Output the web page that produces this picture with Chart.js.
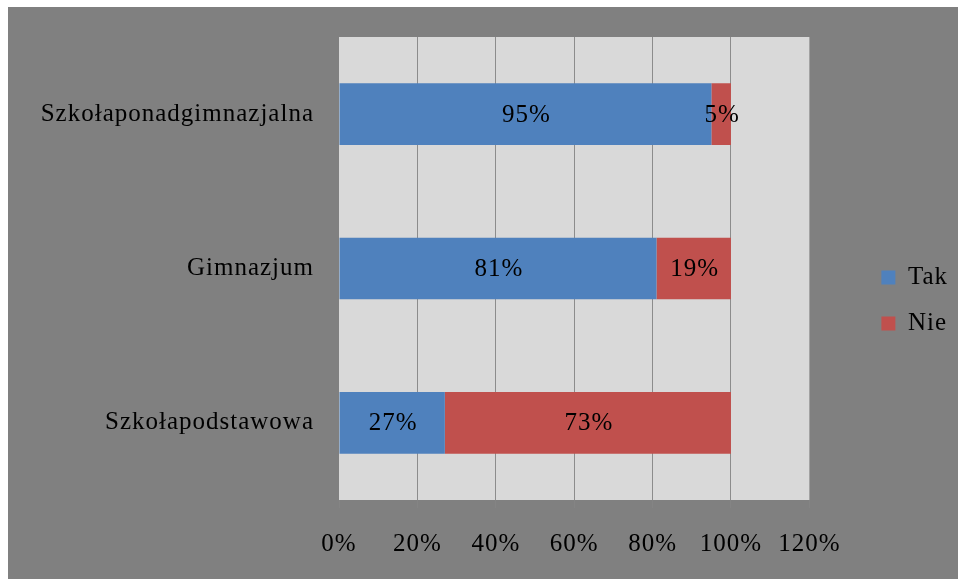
<!DOCTYPE html>
<html>
<head>
<meta charset="utf-8">
<script src="https://cdn.jsdelivr.net/npm/chart.js@4"></script>
<style>
  html, body { margin: 0; padding: 0; background: #fff; }
  #wrap { width: 958px; height: 579px; }
</style>
</head>
<body>
<div id="wrap"><canvas id="chart" width="958" height="579"></canvas></div>
<script>
// dane z wykresu
const categories = ['Szkołaponadgimnazjalna', 'Gimnazjum', 'Szkołapodstawowa'];
const takValues = [95, 81, 27];
const nieValues = [5, 19, 73];
const xTicks = [0, 20, 40, 60, 80, 100, 120];

const serif = "'Liberation Serif', 'Times New Roman', serif";
const SPACING = '1px';

// tło: szare pole + jasny obszar wykresu
const backgroundPlugin = {
  id: 'bg',
  beforeUpdate(chart) { chart.ctx.letterSpacing = SPACING; },
  beforeDraw(chart) {
    const ctx = chart.ctx;
    const a = chart.chartArea;
    ctx.save();
    ctx.fillStyle = '#ffffff';
    ctx.fillRect(0, 0, chart.width, chart.height);
    ctx.fillStyle = '#808080';
    ctx.fillRect(8, 7, chart.width - 8, chart.height - 7);
    ctx.fillStyle = '#d9d9d9';
    ctx.fillRect(a.left, a.top, a.right - a.left, a.bottom - a.top);
    ctx.restore();
    ctx.letterSpacing = SPACING;
  }
};

// etykiety procentowe na środku segmentów
const labelPlugin = {
  id: 'segLabels',
  afterDatasetsDraw(chart) {
    const ctx = chart.ctx;
    ctx.save();
    ctx.letterSpacing = SPACING;
    ctx.font = '25px ' + serif;
    ctx.fillStyle = '#000';
    ctx.textAlign = 'center';
    ctx.textBaseline = 'middle';
    chart.data.datasets.forEach((ds, i) => {
      chart.getDatasetMeta(i).data.forEach((bar, j) => {
        const p = bar.getProps(['x', 'y', 'base'], true);
        ctx.fillText(ds.data[j] + '%', (p.x + p.base) / 2 + 1, p.y + 1);
      });
    });
    ctx.restore();
  }
};

new Chart(document.getElementById('chart'), {
  type: 'bar',
  data: {
    labels: categories,
    datasets: [
      { label: 'Tak', data: takValues, backgroundColor: '#4f81bd', borderWidth: 0 },
      { label: 'Nie', data: nieValues, backgroundColor: '#c0504d', borderWidth: 0 }
    ]
  },
  options: {
    indexAxis: 'y',
    responsive: false,
    animation: false,
    devicePixelRatio: 1,
    layout: { padding: { top: 37, left: 8, right: 0, bottom: 15 } },
    datasets: { bar: { categoryPercentage: 0.8, barPercentage: 0.5 } },
    plugins: {
      tooltip: { enabled: false },
      legend: {
        position: 'right',
        align: 'center',
        labels: {
          color: '#000',
          font: { family: serif, size: 25 },
          boxWidth: 14,
          boxHeight: 14,
          padding: 21
        }
      }
    },
    scales: {
      x: {
        stacked: true,
        min: 0,
        max: 120,
        afterBuildTicks: s => { s.ticks = xTicks.map(v => ({ value: v })); },
        afterFit: s => { s.height = 64; },
        border: { display: false },
        grid: {
          color: c => (c.tick && (c.tick.value === 0 || c.tick.value === 120)) ? 'rgba(0,0,0,0)' : '#8c8c8c',
          tickColor: 'rgba(140,140,140,0.35)',
          tickLength: 8
        },
        ticks: {
          color: '#000',
          padding: 21,
          font: { family: serif, size: 25 },
          callback: v => v + '%'
        }
      },
      y: {
        stacked: true,
        afterFit: s => { s.width = 331; s.paddingTop = 0; s.paddingBottom = 0; },
        border: { display: false },
        grid: { display: false, drawTicks: false },
        ticks: {
          color: '#000',
          padding: 25,
          font: { family: serif, size: 25 }
        }
      },
      y2: {
        type: 'category',
        position: 'right',
        afterFit: s => { s.width = 51; s.paddingTop = 0; s.paddingBottom = 0; },
        border: { display: false },
        grid: { display: false, drawTicks: false },
        ticks: { display: false }
      }
    }
  },
  plugins: [backgroundPlugin, labelPlugin]
});
</script>
</body>
</html>
